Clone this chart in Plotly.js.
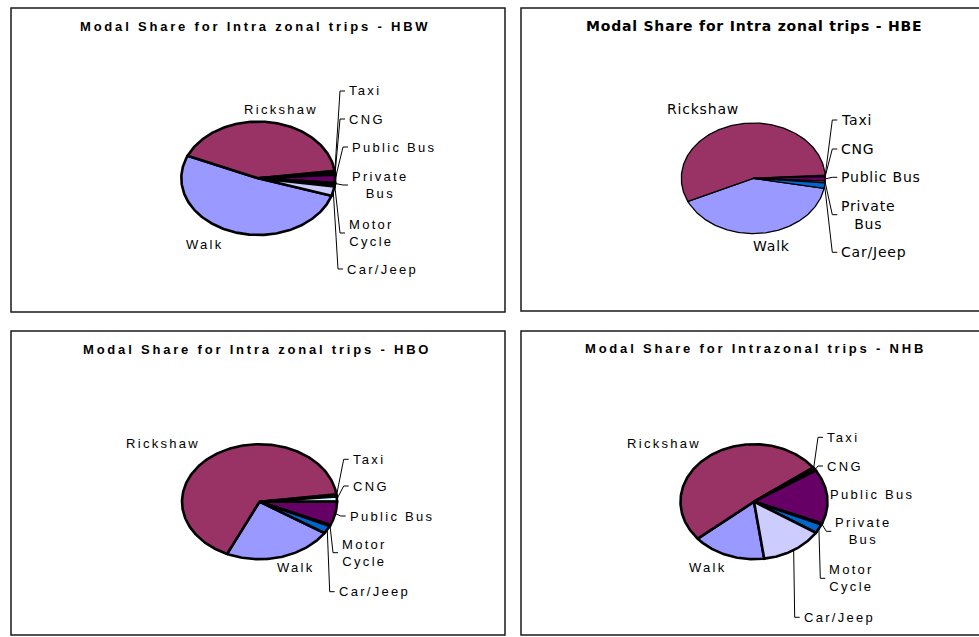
<!DOCTYPE html>
<html>
<head>
<meta charset="utf-8">
<script src="https://cdn.plot.ly/plotly-3.0.1.min.js"></script>
<style>
  html, body { margin: 0; padding: 0; background: #ffffff; }
  #chart { width: 979px; height: 637px; }
  /* spaced-out lettering of the Arial panels and the wide lettering of the HBE panel */
  text[style*="Liberation Sans"] { letter-spacing: 2.3px; }
  text[style*="Arial"] { letter-spacing: 2.8px; }
  text[style*="DejaVu"] { letter-spacing: 0.8px; }
</style>
</head>
<body>
<div id="chart"></div>
<script>
// ---- data: percentage share of each mode, listed clockwise ----
const modesHBW = ['Walk', 'Rickshaw', 'Taxi', 'CNG', 'Public Bus', 'Private Bus', 'Motor Cycle', 'Car/Jeep'];
const shareHBW = [51.5, 41.4, 0.6, 0.5, 2.3, 0.3, 0.7, 2.7];

const modesHBE = ['Walk', 'Rickshaw', 'Taxi', 'CNG', 'Public Bus', 'Private Bus', 'Car/Jeep'];
const shareHBE = [40.2, 56.0, 0.2, 0.2, 1.3, 0.5, 1.6];

const modesHBO = ['Walk', 'Rickshaw', 'Taxi', 'CNG', 'Public Bus', 'Motor Cycle', 'Car/Jeep'];
const shareHBO = [22.7, 66.1, 0.6, 1.4, 6.7, 0.3, 2.2];

const modesNHB = ['Walk', 'Rickshaw', 'Taxi', 'CNG', 'Public Bus', 'Private Bus', 'Motor Cycle', 'Car/Jeep'];
const shareNHB = [16.1, 51.0, 0.4, 0.6, 15.3, 0.3, 2.6, 13.7];

const titleHBW = 'Modal Share for Intra zonal trips - HBW';
const titleHBE = 'Modal Share for Intra zonal trips - HBE';
const titleHBO = 'Modal Share for Intra zonal trips - HBO';
const titleNHB = 'Modal Share for Intrazonal trips - NHB';

// ---- styling ----
const W = 979, H = 637;
const palette = ['#9999FF', '#993366', '#FFFFCC', '#CCFFFF', '#660066', '#FF8080', '#0066CC', '#CCCCFF'];
const spacedLabelFont = { family: "'Liberation Sans'", size: 13, color: '#000000' };
const spacedTitleFont = { family: "Arial, 'Liberation Sans'", size: 13, color: '#000000', weight: 'bold' };
const wideLabelFont = { family: "'DejaVu Sans'", size: 14, color: '#000000' };
const wideTitleFont = { family: "'DejaVu Sans'", size: 14, color: '#000000', weight: 'bold' };

// panel frames, ellipse geometry (px), outline weight and label placement (px)
const panels = [
  {
    modes: modesHBW, share: shareHBW, title: titleHBW,
    box: [11, 8, 505, 312], cx: 258.3, cy: 178.3, rx: 77, ry: 56.7, start: -18, edge: 2.6,
    titleAt: [255, 27], labelFont: spacedLabelFont, titleFont: spacedTitleFont,
    labelAt: {
      'Walk': [205, 244, 'center'], 'Rickshaw': [281, 109, 'center'],
      'Taxi': [347, 91, 'left'], 'CNG': [347, 119, 'left'], 'Public Bus': [350, 147, 'left'],
      'Private Bus': [350, 185, 'left'], 'Motor Cycle': [347, 233, 'left'], 'Car/Jeep': [345, 269, 'left']
    }
  },
  {
    modes: modesHBE, share: shareHBE, title: titleHBE,
    box: [521, 8, 990, 311], cx: 753.3, cy: 178.3, rx: 72, ry: 55.3, start: -10.5, edge: 1.3,
    titleAt: [753.5, 25.7], labelFont: wideLabelFont, titleFont: wideTitleFont,
    labelAt: {
      'Walk': [771.7, 246, 'center'], 'Rickshaw': [703, 109.3, 'center'],
      'Taxi': [839.3, 120, 'left'], 'CNG': [839.3, 149, 'left'], 'Public Bus': [839.3, 177.3, 'left'],
      'Private Bus': [839.3, 214.7, 'left'], 'Car/Jeep': [839.3, 252.3, 'left']
    }
  },
  {
    modes: modesHBO, share: shareHBO, title: titleHBO,
    box: [11, 331, 505, 635], cx: 259.5, cy: 501.7, rx: 77.5, ry: 57.5, start: -33, edge: 2.6,
    titleAt: [257, 349], labelFont: spacedLabelFont, titleFont: spacedTitleFont,
    labelAt: {
      'Walk': [296, 567.3, 'center'], 'Rickshaw': [163.3, 443.3, 'center'],
      'Taxi': [350.7, 459.3, 'left'], 'CNG': [350.7, 486, 'left'], 'Public Bus': [347.7, 516, 'left'],
      'Motor Cycle': [340, 552.7, 'left'], 'Car/Jeep': [336.7, 591.7, 'left']
    }
  },
  {
    modes: modesNHB, share: shareNHB, title: titleNHB,
    box: [521, 331, 990, 635], cx: 754, cy: 501.7, rx: 73.5, ry: 57.5, start: -82, edge: 2.6,
    titleAt: [755.5, 348.3], labelFont: spacedLabelFont, titleFont: spacedTitleFont,
    labelAt: {
      'Walk': [708.3, 567.3, 'center'], 'Rickshaw': [664, 443.3, 'center'],
      'Taxi': [825, 437.3, 'left'], 'CNG': [825, 466, 'left'], 'Public Bus': [828.3, 494, 'left', false],
      'Private Bus': [833.3, 531.3, 'left'], 'Motor Cycle': [827.3, 578.3, 'left'], 'Car/Jeep': [801.7, 617.3, 'left']
    }
  }
];

function displayName(m) {
  if (m === 'Private Bus') return 'Private<br>Bus';
  if (m === 'Motor Cycle') return 'Motor<br>Cycle';
  return m;
}

const traces = [];
const layout = {
  width: W, height: H,
  margin: { l: 0, r: 0, t: 0, b: 0, pad: 0 },
  paper_bgcolor: '#ffffff', plot_bgcolor: 'rgba(0,0,0,0)',
  showlegend: false, hovermode: false,
  annotations: [], shapes: []
};

panels.forEach((p, i) => {
  const n = i + 1;
  const xa = 'x' + (n === 1 ? '' : n), ya = 'y' + (n === 1 ? '' : n);
  const xKey = 'xaxis' + (n === 1 ? '' : n), yKey = 'yaxis' + (n === 1 ? '' : n);
  const [x0, y0, x1raw, y1] = p.box;
  const x1 = Math.min(x1raw, W);

  // axes in units of the pie radius; unequal px-per-unit turns the circle into an ellipse
  layout[xKey] = {
    domain: [x0 / W, x1 / W], range: [(x0 - p.cx) / p.rx, (x1 - p.cx) / p.rx],
    visible: false, fixedrange: true, anchor: ya
  };
  layout[yKey] = {
    domain: [1 - y1 / H, 1 - y0 / H], range: [(p.cy - y1) / p.ry, (p.cy - y0) / p.ry],
    visible: false, fixedrange: true, anchor: xa
  };
  const toX = px => (px - p.cx) / p.rx;
  const toY = py => (p.cy - py) / p.ry;

  // frame
  layout.shapes.push({
    type: 'rect', xref: 'paper', yref: 'paper',
    x0: x0 / W, x1: x1raw / W, y0: 1 - y1 / H, y1: 1 - y0 / H,
    line: { color: '#1a1a1a', width: 1.5 }, fillcolor: 'rgba(0,0,0,0)'
  });

  // title
  layout.annotations.push({
    text: p.title, xref: 'paper', yref: 'paper',
    x: p.titleAt[0] / W, y: 1 - p.titleAt[1] / H,
    xanchor: 'center', yanchor: 'middle', showarrow: false, font: p.titleFont
  });

  const total = p.share.reduce((a, b) => a + b, 0);
  let a0 = p.start;
  p.modes.forEach((m, k) => {
    const sweep = p.share[k] / total * 360;
    const a1 = a0 - sweep;
    const steps = Math.max(2, Math.ceil(sweep));
    const xs = [0], ys = [0];
    for (let s = 0; s <= steps; s++) {
      const a = (a0 + (a1 - a0) * s / steps) * Math.PI / 180;
      xs.push(Math.cos(a)); ys.push(Math.sin(a));
    }
    xs.push(0); ys.push(0);
    traces.push({
      type: 'scatter', mode: 'lines', x: xs, y: ys, xaxis: xa, yaxis: ya,
      fill: 'toself', fillcolor: palette[k],
      line: { color: '#000000', width: p.edge }, hoverinfo: 'skip', name: m
    });

    const pos = p.labelAt[m];
    if (pos) {
      layout.annotations.push({
        text: displayName(m), xref: 'paper', yref: 'paper',
        x: pos[0] / W, y: 1 - pos[1] / H,
        xanchor: pos[2], yanchor: 'middle', align: 'center', showarrow: false,
        font: p.labelFont
      });
      if (pos[2] === 'left' && pos[3] !== false) {
        const mid = ((a0 + a1) / 2) * Math.PI / 180;
        traces.push({
          type: 'scatter', mode: 'lines', xaxis: xa, yaxis: ya,
          x: [Math.cos(mid), toX(pos[0] - 7), toX(pos[0] - 2)],
          y: [Math.sin(mid), toY(pos[1]), toY(pos[1])],
          line: { color: '#000000', width: 1 }, hoverinfo: 'skip', name: m + ' leader'
        });
      }
    }
    a0 = a1;
  });
});

Plotly.newPlot('chart', traces, layout, { staticPlot: true, displayModeBar: false });
</script>
</body>
</html>
